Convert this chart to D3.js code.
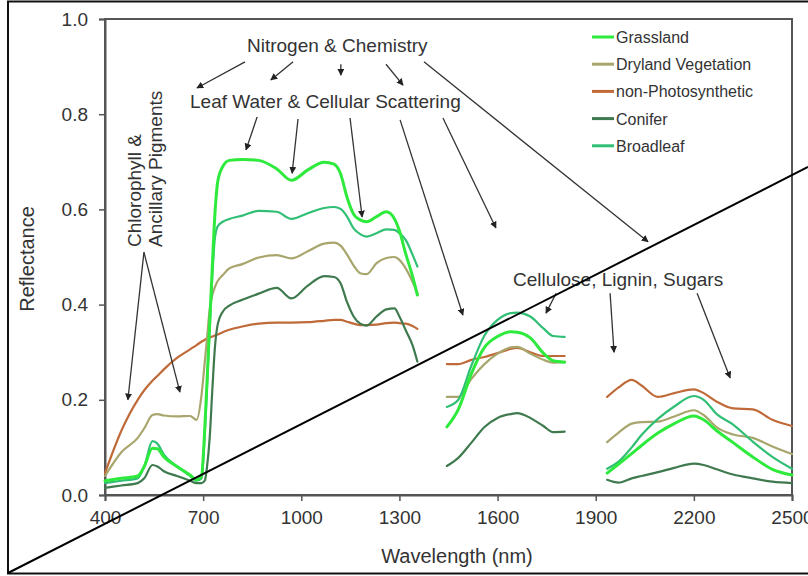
<!DOCTYPE html>
<html>
<head>
<meta charset="utf-8">
<script src="https://cdn.jsdelivr.net/npm/d3@7/dist/d3.min.js"></script>
<style>
  body { margin: 0; background: #fff; }
  svg { display: block; font-family: "Liberation Sans", Arial, sans-serif; }
</style>
</head>
<body>
<div id="chart"></div>
<script>
// wavelengths (nm); null entries mark the water absorption gaps
const wavelengths = [
  400, 450, 500, 520, 545, 560, 580, 620, 660, 680, 695, 705, 712, 720, 728, 736, 745, 760, 780, 820,
  870, 925, 970, 1020, 1070, 1100, 1120, 1140, 1160, 1180, 1200, 1230, 1260, 1285, 1300, 1320, 1340, 1355,
  1400,
  1445, 1480, 1520, 1560, 1600, 1640, 1660, 1700, 1740, 1770, 1805,
  1870,
  1935, 1970, 2010, 2040, 2090, 2140, 2200, 2230, 2270, 2320, 2380, 2440, 2500
];

const grassland = [
  .03, .035, .04, .06, .098, .097, .08, .06, .042, .032, .04, .14, .24, .36, .48, .59, .66, .69, .703, .705,
  .703, .685, .661, .683, .699, .695, .675, .625, .59, .578, .574, .585, .595, .58, .555, .505, .46, .42,
  null,
  .143, .18, .255, .31, .333, .343, .342, .33, .298, .282, .279,
  null,
  .046, .065, .087, .104, .13, .15, .166, .158, .135, .11, .08, .054, .042
];

const dryland = [
  .04, .09, .12, .14, .168, .17, .167, .165, .166, .158, .21, .28, .33, .39, .42, .437, .45, .462, .476, .485,
  .499, .504, .497, .512, .528, .53, .524, .505, .482, .466, .464, .487, .498, .5, .494, .475, .448, .424,
  null,
  .206, .206, .244, .275, .297, .31, .311, .297, .284, .278, .28,
  null,
  .111, .131, .15, .153, .154, .165, .178, .168, .142, .127, .12, .102, .086
];

const nonPhoto = [
  .046, .135, .2, .22, .24, .25, .264, .288, .306, .315, .322, .326, .329, .331, .333, .335, .337, .342, .347, .354,
  .36, .362, .362, .363, .366, .368, .368, .364, .36, .357, .357, .358, .361, .362, .361, .36, .355, .349,
  null,
  .275, .275, .284, .29, .298, .307, .309, .3, .292, .292, .292,
  null,
  .206, .226, .242, .23, .206, .214, .222, .214, .196, .182, .18, .158, .145
];

const conifer = [
  .015, .02, .025, .035, .063, .06, .05, .04, .03, .025, .025, .03, .06, .12, .22, .31, .36, .385, .398, .41,
  .423, .435, .413, .44, .46, .458, .445, .405, .375, .36, .356, .375, .39, .392, .375, .345, .315, .28,
  null,
  .061, .078, .11, .143, .162, .17, .172, .162, .145, .132, .133,
  null,
  .032, .026, .035, .04, .048, .057, .066, .063, .054, .043, .035, .028, .025
];

const broadleaf = [
  .025, .03, .035, .06, .113, .108, .085, .06, .04, .03, .035, .13, .23, .35, .46, .54, .565, .574, .58, .587,
  .597, .595, .58, .592, .603, .605, .601, .585, .56, .548, .543, .55, .558, .557, .55, .535, .505, .48,
  null,
  .185, .2, .272, .335, .368, .382, .383, .375, .35, .334, .332,
  null,
  .055, .07, .1, .126, .16, .186, .208, .2, .17, .148, .112, .08, .055
];

const seriesNames = ["Grassland", "Dryland Vegetation", "non-Photosynthetic", "Conifer", "Broadleaf"];
const seriesValues = [grassland, dryland, nonPhoto, conifer, broadleaf];
const seriesColors = ["#2eea3c", "#a8a66c", "#bf6a38", "#3e7a4e", "#30bf74"];
const seriesWidths = [3, 2.2, 2.2, 2.2, 2.2];
// draw order (back to front)
const drawOrder = [2, 3, 1, 4, 0];

const xTicks = [400, 700, 1000, 1300, 1600, 1900, 2200, 2500];
const yTicks = [0, 0.2, 0.4, 0.6, 0.8, 1.0];

// annotation arrows in data units: [nm0, r0, nm1, r1]
const nitrogenArrows = [
  [828, .910, 681, .855], [975, .910, 907, .872], [1121, .905, 1121, .882],
  [1259, .905, 1311, .861], [1375, .910, 2060, .532]
];
const waterArrows = [
  [865, .794, 831, .725], [990, .79, 972, .676], [1149, .792, 1186, .584],
  [1302, .788, 1494, .378], [1433, .792, 1595, .561]
];
const pigmentArrows = [[519, .51, 470, .2], [519, .51, 629, .216]];
const celluloseArrows = [[1779, .424, 1748, .382], [1944, .424, 1956, .3], [2210, .424, 2311, .246]];

const W = 808, H = 576;
const margin = { left: 105, top: 19, right: 16, bottom: 81 };

const svg = d3.select("#chart").append("svg")
  .attr("width", W)
  .attr("height", H);

const x = d3.scaleLinear().domain([400, 2500]).range([margin.left, W - margin.right]);
const y = d3.scaleLinear().domain([0, 1]).range([H - margin.bottom, margin.top]);

const textColor = "#333";

// outer frame
svg.append("rect")
  .attr("x", 8).attr("y", 1.5)
  .attr("width", 812).attr("height", 572)
  .attr("fill", "none").attr("stroke", "#111").attr("stroke-width", 2);

// plot frame
svg.append("rect")
  .attr("x", x(400)).attr("y", y(1))
  .attr("width", x(2500) - x(400)).attr("height", y(0) - y(1))
  .attr("fill", "none").attr("stroke", "#555").attr("stroke-width", 2);

// axes
const xAxis = svg.append("g")
  .attr("transform", `translate(0,${y(0)})`)
  .call(d3.axisBottom(x).tickValues(xTicks).tickSize(6).tickPadding(10).tickFormat(d3.format("d")));
const yAxis = svg.append("g")
  .attr("transform", `translate(${x(400)},0)`)
  .call(d3.axisLeft(y).tickValues(yTicks).tickSize(6).tickPadding(11).tickFormat(d3.format(".1f")));

[xAxis, yAxis].forEach(g => {
  g.select(".domain").attr("stroke", "#555").attr("stroke-width", 2);
  g.selectAll(".tick line").attr("stroke", "#555").attr("stroke-width", 1.5);
  g.selectAll(".tick text")
    .attr("fill", textColor)
    .style("font-size", "19px")
    .style("font-family", "'Liberation Sans', Arial, sans-serif");
});

// axis titles
svg.append("text")
  .attr("transform", `translate(34,259) rotate(-90)`)
  .attr("text-anchor", "middle")
  .attr("fill", textColor)
  .style("font-size", "20px")
  .text("Reflectance");

svg.append("text")
  .attr("x", 457).attr("y", 563)
  .attr("text-anchor", "middle")
  .attr("fill", textColor)
  .style("font-size", "20px")
  .text("Wavelength (nm)");

// spectra
const line = d3.line()
  .defined(d => d[1] !== null)
  .x(d => x(d[0]))
  .y(d => y(d[1]))
  .curve(d3.curveMonotoneX);

drawOrder.forEach(i => {
  const pts = wavelengths.map((w, j) => [w, seriesValues[i][j]]);
  svg.append("path")
    .datum(pts)
    .attr("d", line)
    .attr("fill", "none")
    .attr("stroke", seriesColors[i])
    .attr("stroke-width", seriesWidths[i])
    .attr("stroke-linejoin", "round")
    .attr("stroke-linecap", "round");
});

// legend
const legend = svg.append("g");
seriesNames.forEach((name, i) => {
  const ly = 37 + i * 27.2;
  legend.append("line")
    .attr("x1", 592).attr("x2", 614)
    .attr("y1", ly).attr("y2", ly)
    .attr("stroke", seriesColors[i])
    .attr("stroke-width", 3);
  legend.append("text")
    .attr("x", 616).attr("y", ly + 6)
    .attr("fill", textColor)
    .style("font-size", "16px")
    .text(name);
});

// annotations
svg.append("defs").append("marker")
  .attr("id", "head")
  .attr("viewBox", "0 0 10 10")
  .attr("refX", 9).attr("refY", 5)
  .attr("markerWidth", 7).attr("markerHeight", 7)
  .attr("markerUnits", "userSpaceOnUse")
  .attr("orient", "auto")
  .append("path")
  .attr("d", "M0,0L10,5L0,10z")
  .attr("fill", "#222");

const arrows = [].concat(nitrogenArrows, waterArrows, pigmentArrows, celluloseArrows);
svg.append("g").selectAll("line")
  .data(arrows)
  .enter()
  .append("line")
  .attr("x1", d => x(d[0]))
  .attr("y1", d => y(d[1]))
  .attr("x2", d => x(d[2]))
  .attr("y2", d => y(d[3]))
  .attr("stroke", "#333")
  .attr("stroke-width", 1.3)
  .attr("marker-end", "url(#head)");

const annot = svg.append("g")
  .attr("fill", textColor)
  .style("font-size", "19px");

annot.append("text").attr("x", 247).attr("y", 52).text("Nitrogen & Chemistry");
annot.append("text").attr("x", 190).attr("y", 108).text("Leaf Water & Cellular Scattering");
annot.append("text").attr("x", 513).attr("y", 286).text("Cellulose, Lignin, Sugars");
annot.append("text").attr("transform", "translate(141,247) rotate(-90)").text("Chlorophyll &");
annot.append("text").attr("transform", "translate(162,247) rotate(-90)").text("Ancillary Pigments");

// diagonal stroke across the figure
svg.append("line")
  .attr("x1", 8).attr("y1", 573)
  .attr("x2", 808).attr("y2", 167)
  .attr("stroke", "#000")
  .attr("stroke-width", 2);
</script>
</body>
</html>
